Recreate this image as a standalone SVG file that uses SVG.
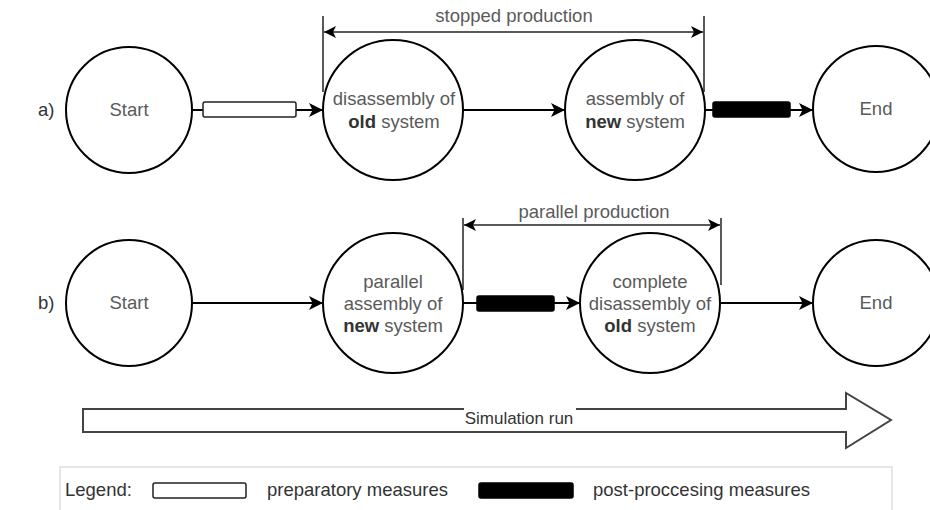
<svg xmlns="http://www.w3.org/2000/svg" width="930" height="510" viewBox="0 0 930 510">
<defs>
<marker id="ah" viewBox="0 0 14 14" refX="14" refY="7" markerWidth="14" markerHeight="14" markerUnits="userSpaceOnUse" orient="auto">
<path d="M0,0 L14,7 L0,14 L3.5,7 Z" fill="#000"/>
</marker>
<marker id="dh" viewBox="0 0 12 12" refX="12" refY="6" markerWidth="12" markerHeight="12" markerUnits="userSpaceOnUse" orient="auto-start-reverse">
<path d="M0,0 L12,6 L0,12 L3,6 Z" fill="#000"/>
</marker>
<style>
.n{fill:#fff;stroke:#000;stroke-width:2}
.t{font-family:"Liberation Sans",Arial,sans-serif;font-size:18.5px;fill:#5a5a5a;text-anchor:middle}
.b{font-weight:bold;fill:#333}
.c{fill:none;stroke:#000;stroke-width:2}
.d{fill:none;stroke:#222;stroke-width:1.5}
.w{fill:#fff;stroke:#222;stroke-width:1.5}
.k{fill:#000;stroke:#000;stroke-width:1.5}
.l{font-family:"Liberation Sans",Arial,sans-serif;font-size:18.5px;fill:#333}
.s{font-family:"Liberation Sans",Arial,sans-serif;font-size:17px;fill:#333;text-anchor:middle}
</style>
</defs>
<rect width="930" height="510" fill="#fff"/>
<text class="l" x="38" y="116">a)</text>
<text class="l" x="38" y="309">b)</text>
<g id="connectors">
<line class="c" x1="192" y1="110" x2="323" y2="110" marker-end="url(#ah)"/>
<rect class="w" x="203" y="102" width="93" height="15" rx="2"/>
<line class="c" x1="463" y1="110" x2="565" y2="110" marker-end="url(#ah)"/>
<line class="c" x1="705" y1="110" x2="813" y2="110" marker-end="url(#ah)"/>
<rect class="k" x="713" y="102" width="77" height="15" rx="2"/>
<line class="c" x1="192" y1="303" x2="323" y2="303" marker-end="url(#ah)"/>
<line class="c" x1="463" y1="303" x2="580" y2="303" marker-end="url(#ah)"/>
<rect class="k" x="477" y="296" width="77" height="15" rx="2"/>
<line class="c" x1="720" y1="303" x2="813" y2="303" marker-end="url(#ah)"/>
<line class="d" x1="323" y1="16" x2="323" y2="92"/>
<line class="d" x1="704" y1="16" x2="704" y2="92"/>
<line class="d" x1="324" y1="32" x2="703" y2="32" marker-start="url(#dh)" marker-end="url(#dh)"/>
<text class="t" x="514" y="22">stopped production</text>
<line class="d" x1="463" y1="218" x2="463" y2="290"/>
<line class="d" x1="721" y1="218" x2="721" y2="285"/>
<line class="d" x1="464" y1="225" x2="720" y2="225" marker-start="url(#dh)" marker-end="url(#dh)"/>
<text class="t" x="594" y="218">parallel production</text>
</g>
<g id="a-start"><circle class="n" cx="129" cy="110" r="63"/><text class="t" x="129" y="116">Start</text></g>
<g id="a-disassembly"><circle class="n" cx="393" cy="110" r="70"/><text class="t" x="394" y="105">disassembly of</text><text class="t" x="394" y="128"><tspan class="b">old</tspan> system</text></g>
<g id="a-assembly"><circle class="n" cx="635" cy="110" r="70"/><text class="t" x="635" y="105">assembly of</text><text class="t" x="635" y="128"><tspan class="b">new</tspan> system</text></g>
<g id="a-end"><circle class="n" cx="876" cy="109" r="63"/><text class="t" x="876" y="115">End</text></g>
<g id="b-start"><circle class="n" cx="129" cy="303" r="63"/><text class="t" x="129" y="309">Start</text></g>
<g id="b-assembly"><circle class="n" cx="393" cy="303" r="70"/><text class="t" x="393" y="288">parallel</text><text class="t" x="393" y="310">assembly of</text><text class="t" x="393" y="332"><tspan class="b">new</tspan> system</text></g>
<g id="b-disassembly"><circle class="n" cx="650" cy="303" r="70"/><text class="t" x="650" y="288">complete</text><text class="t" x="650" y="310">disassembly of</text><text class="t" x="650" y="332"><tspan class="b">old</tspan> system</text></g>
<g id="b-end"><circle class="n" cx="876" cy="303" r="63"/><text class="t" x="876" y="309">End</text></g>
<g id="simulation-run">
<path d="M83,409 L846,409 L846,393 L891,420 L846,448 L846,432 L83,432 Z" fill="#fff" stroke="#444" stroke-width="2"/>
<rect x="464" y="403" width="112" height="20" fill="#fff"/>
<text class="s" x="519" y="424">Simulation run</text>
</g>
<g id="legend">
<rect x="60" y="467" width="832" height="60" fill="#fff" stroke="#ccc" stroke-width="1"/>
<text class="l" x="65" y="496">Legend:</text>
<rect class="w" x="153" y="483" width="93" height="15" rx="2"/>
<text class="l" x="267" y="496">preparatory measures</text>
<rect class="k" x="479" y="483" width="94" height="15" rx="2"/>
<text class="l" x="593" y="496">post-proccesing measures</text>
</g>
</svg>
